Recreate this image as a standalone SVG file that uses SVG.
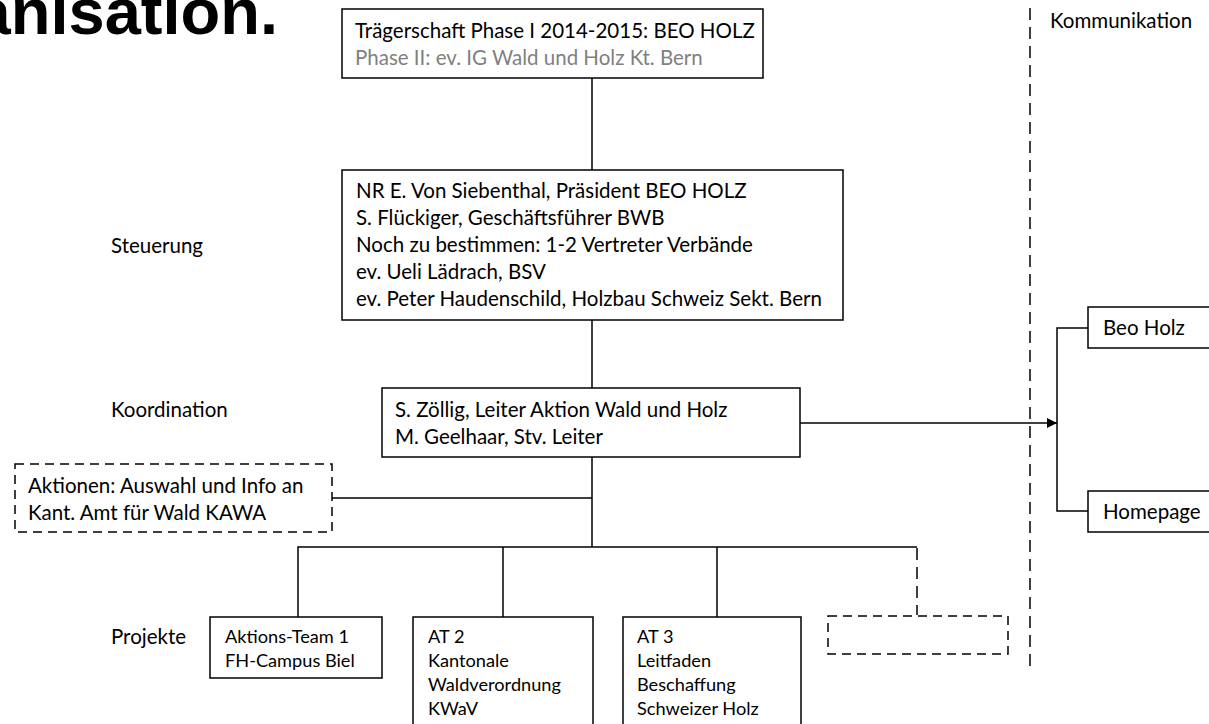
<svg xmlns="http://www.w3.org/2000/svg" width="1209" height="724" viewBox="0 0 1209 724">
<defs>
<style>
.box{fill:#fff;stroke:#000;stroke-width:1.5}
.dbox{fill:#fff;stroke:#000;stroke-width:1.5;stroke-dasharray:9 6}
.t{font-family:Lato,"Liberation Sans",sans-serif;font-size:20.5px;fill:#000}
.s{font-size:18.2px}
.g{fill:#7f7f7f}
.c{stroke:#000;stroke-width:1.5;fill:none}
.dc{stroke:#000;stroke-width:1.5;fill:none;stroke-dasharray:12 7}
.title{font-family:"Liberation Sans",Arial,sans-serif;font-weight:bold;font-size:65px;fill:#000}
</style>
<marker id="arr" markerWidth="10" markerHeight="10" refX="10" refY="5" orient="auto" markerUnits="userSpaceOnUse">
<path d="M0,0 L10,5 L0,10 Z" fill="#000"/>
</marker>
</defs>
<rect width="1209" height="724" fill="#fff"/>
<text class="title" x="278" y="34" text-anchor="end">anisation.</text>

<g id="connectors">
<line class="c" x1="592" y1="78" x2="592" y2="170"/>
<line class="c" x1="592" y1="320" x2="592" y2="388"/>
<line class="c" x1="592" y1="457" x2="592" y2="547"/>
<line class="c" x1="332" y1="498" x2="592" y2="498"/>
<polyline class="c" points="298,617 298,547 917,547"/>
<line class="c" x1="503" y1="547" x2="503" y2="617"/>
<line class="c" x1="717" y1="547" x2="717" y2="617"/>
<line class="dc" x1="917" y1="548" x2="917" y2="615"/>
<line class="c" x1="800" y1="423" x2="1057" y2="423" marker-end="url(#arr)"/>
<polyline class="c" points="1088,328 1057,328 1057,511 1088,511"/>
<line class="dc" x1="1030" y1="8" x2="1030" y2="666"/>
</g>

<g id="traegerschaft">
<rect class="box" x="342" y="9" width="421" height="69"/>
<text class="t" x="355" y="38">Trägerschaft Phase I 2014-2015: BEO HOLZ</text>
<text class="t g" x="355" y="65">Phase II: ev. IG Wald und Holz Kt. Bern</text>
</g>

<g id="steuerung">
<rect class="box" x="342" y="170" width="501" height="150"/>
<text class="t" x="356" y="198">NR E. Von Siebenthal, Präsident BEO HOLZ</text>
<text class="t" x="356" y="225">S. Flückiger, Geschäftsführer BWB</text>
<text class="t" x="356" y="252">Noch zu bestimmen: 1-2 Vertreter Verbände</text>
<text class="t" x="356" y="279">ev. Ueli Lädrach, BSV</text>
<text class="t" x="356" y="306">ev. Peter Haudenschild, Holzbau Schweiz Sekt. Bern</text>
</g>

<g id="label-steuerung"><text class="t" x="111" y="253">Steuerung</text></g>
<g id="label-koordination"><text class="t" x="111" y="417">Koordination</text></g>
<g id="label-projekte"><text class="t" x="111" y="644">Projekte</text></g>
<g id="label-kommunikation"><text class="t" x="1050" y="28">Kommunikation</text></g>

<g id="koordination">
<rect class="box" x="382" y="388" width="418" height="69"/>
<text class="t" x="395" y="417">S. Zöllig, Leiter Aktion Wald und Holz</text>
<text class="t" x="395" y="444">M. Geelhaar, Stv. Leiter</text>
</g>

<g id="aktionen">
<rect class="dbox" x="15" y="464" width="317" height="68"/>
<text class="t" x="28" y="493">Aktionen: Auswahl und Info an</text>
<text class="t" x="28" y="520">Kant. Amt für Wald KAWA</text>
</g>

<g id="at1">
<rect class="box" x="210" y="617" width="172" height="61"/>
<text class="t s" x="225" y="643">Aktions-Team 1</text>
<text class="t s" x="225" y="667">FH-Campus Biel</text>
</g>

<g id="at2">
<rect class="box" x="413" y="617" width="180" height="125"/>
<text class="t s" x="428" y="643">AT 2</text>
<text class="t s" x="428" y="667">Kantonale</text>
<text class="t s" x="428" y="691">Waldverordnung</text>
<text class="t s" x="428" y="715">KWaV</text>
</g>

<g id="at3">
<rect class="box" x="623" y="617" width="178" height="125"/>
<text class="t s" x="637" y="643">AT 3</text>
<text class="t s" x="637" y="667">Leitfaden</text>
<text class="t s" x="637" y="691">Beschaffung</text>
<text class="t s" x="637" y="715">Schweizer Holz</text>
</g>

<g id="at-weitere">
<rect class="dbox" x="828" y="616" width="180" height="38"/>
</g>

<g id="beo-holz">
<rect class="box" x="1088" y="307" width="130" height="41"/>
<text class="t" x="1103" y="335">Beo Holz</text>
</g>

<g id="homepage">
<rect class="box" x="1088" y="491" width="130" height="41"/>
<text class="t" x="1103" y="519">Homepage</text>
</g>
</svg>
